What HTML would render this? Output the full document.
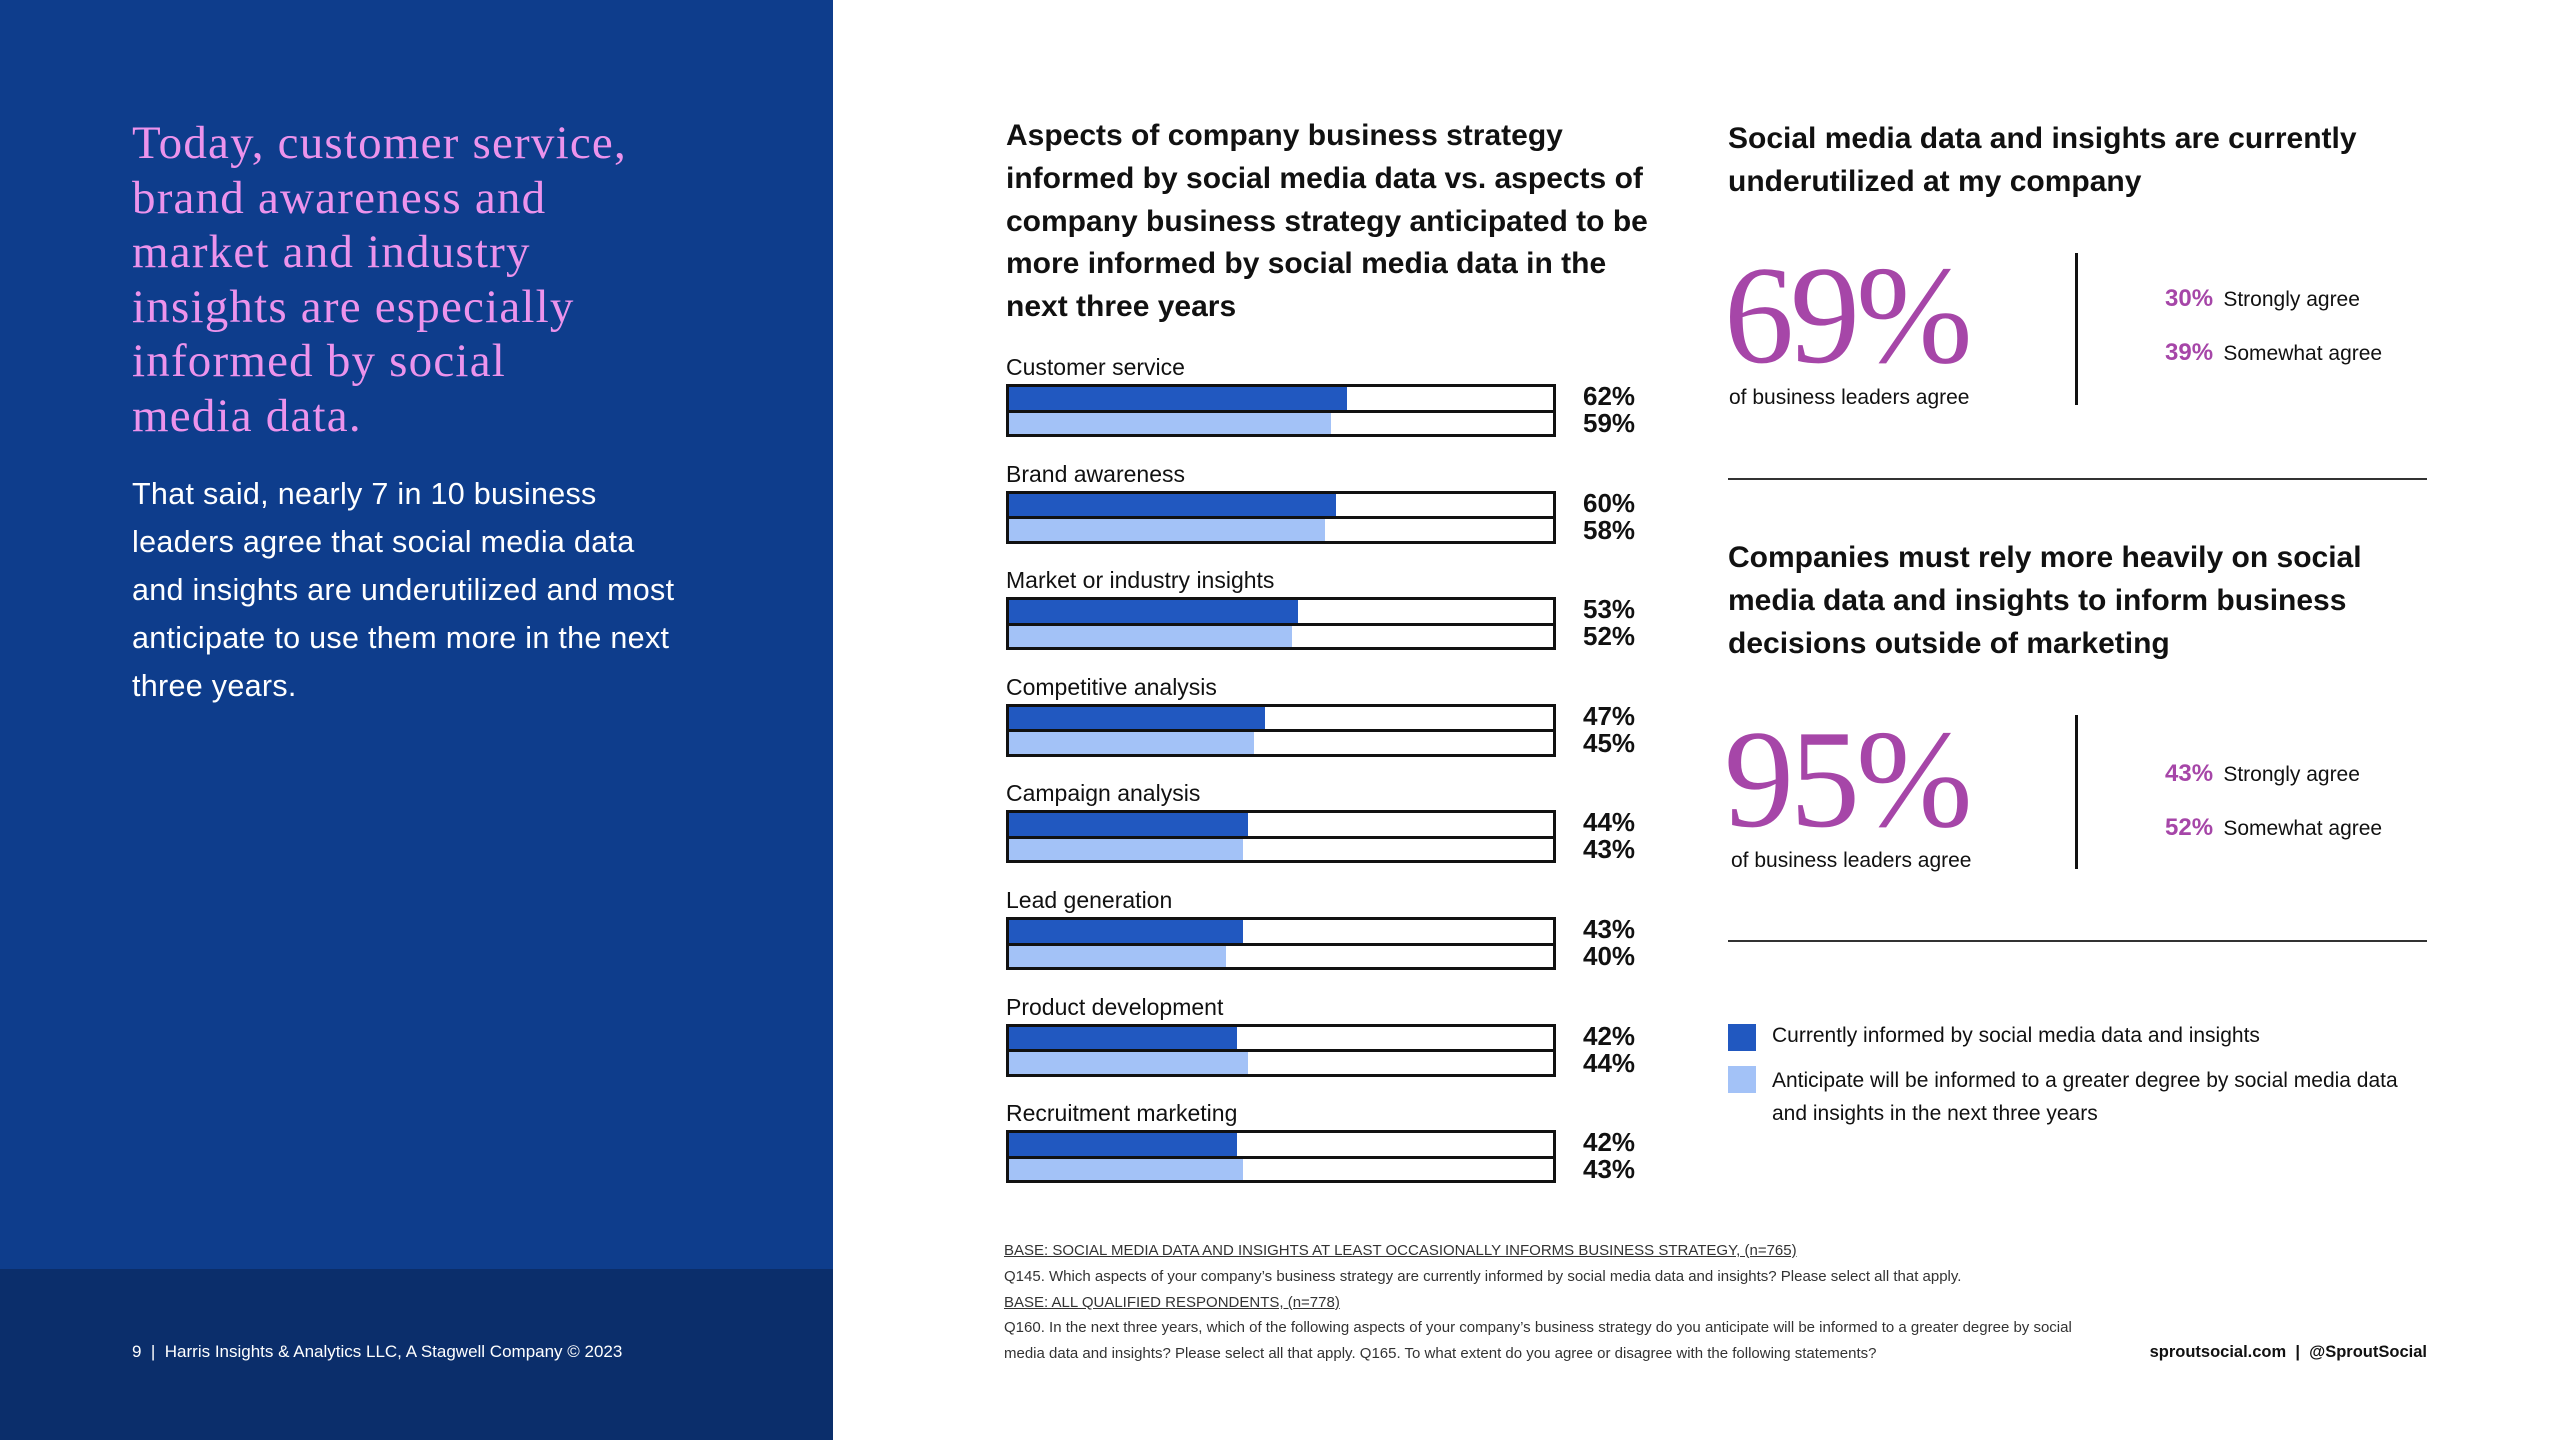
<!DOCTYPE html>
<html><head><meta charset="utf-8"><style>
*{margin:0;padding:0;box-sizing:border-box}
body{width:2560px;height:1440px;position:relative;background:#fff;font-family:"Liberation Sans",sans-serif;overflow:hidden;color:#111}
.abs{position:absolute;white-space:nowrap}
#left{position:absolute;left:0;top:0;width:833px;height:1440px;background:#0e3d8c}
#leftfoot{position:absolute;left:0;top:1269px;width:833px;height:171px;background:#0b2e6b}
.h{font-family:"Liberation Serif",serif;color:#ec93ec;font-size:47px;letter-spacing:1.2px;line-height:54.6px;left:132px;top:116px}
.body{color:#fff;font-size:30.5px;letter-spacing:0.3px;line-height:48px;left:132px;top:470px}
.ttl{font-weight:bold;font-size:30px;line-height:42.8px}
.big{font-family:"Liberation Serif",serif;color:#a646a8;font-size:140px;line-height:1;letter-spacing:-4px}
.pc{color:#a646a8;font-weight:bold;font-size:24px}
.sm{font-size:21px}
.note{font-size:15px;color:#333}
</style></head><body>
<div id="left"></div>
<div id="leftfoot"></div>
<div class="abs h">Today, customer service,<br>brand awareness and<br>market and industry<br>insights are especially<br>informed by social<br>media data.</div>
<div class="abs body">That said, nearly 7 in 10 business<br>leaders agree that social media data<br>and insights are underutilized and most<br>anticipate to use them more in the next<br>three years.</div>
<div class="abs" style="left:132px;top:1342px;color:#fff;font-size:17px">9 &nbsp;|&nbsp; Harris Insights &amp; Analytics LLC, A Stagwell Company © 2023</div>

<div class="abs ttl" style="left:1006px;top:115px">Aspects of company business strategy<br>informed by social media data vs. aspects of<br>company business strategy anticipated to be<br>more informed by social media data in the<br>next three years</div>
<div id="chart"></div>

<div class="abs ttl" style="left:1728px;top:118px">Social media data and insights are currently<br>underutilized at my company</div>
<div class="abs big" style="left:1724px;top:246px">69%</div>
<div class="abs sm" style="left:1729px;top:386px">of business leaders agree</div>
<div class="abs" style="left:2075px;top:253px;width:3px;height:152px;background:#111"></div>
<div class="abs" style="left:2165px;top:285px"><span class="pc">30%</span> <span class="sm">&nbsp;Strongly agree</span></div>
<div class="abs" style="left:2165px;top:339px"><span class="pc">39%</span> <span class="sm">&nbsp;Somewhat agree</span></div>
<div class="abs" style="left:1728px;top:478px;width:699px;height:2px;background:#333"></div>

<div class="abs ttl" style="left:1728px;top:537px">Companies must rely more heavily on social<br>media data and insights to inform business<br>decisions outside of marketing</div>
<div class="abs big" style="left:1724px;top:710px">95%</div>
<div class="abs sm" style="left:1731px;top:849px">of business leaders agree</div>
<div class="abs" style="left:2075px;top:715px;width:3px;height:154px;background:#111"></div>
<div class="abs" style="left:2165px;top:760px"><span class="pc">43%</span> <span class="sm">&nbsp;Strongly agree</span></div>
<div class="abs" style="left:2165px;top:814px"><span class="pc">52%</span> <span class="sm">&nbsp;Somewhat agree</span></div>
<div class="abs" style="left:1728px;top:940px;width:699px;height:2px;background:#333"></div>

<div class="abs" style="left:1728px;top:1024px;width:28px;height:27px;background:#2158c0"></div>
<div class="abs sm" style="left:1772px;top:1024px">Currently informed by social media data and insights</div>
<div class="abs" style="left:1728px;top:1066px;width:28px;height:27px;background:#a3c2f7"></div>
<div class="abs sm" style="left:1772px;top:1064px;line-height:33px">Anticipate will be informed to a greater degree by social media data<br>and insights in the next three years</div>

<div class="abs note" style="left:1004px;top:1242px;text-decoration:underline">BASE: SOCIAL MEDIA DATA AND INSIGHTS AT LEAST OCCASIONALLY INFORMS BUSINESS STRATEGY, (n=765)</div>
<div class="abs note" style="left:1004px;top:1268px">Q145. Which aspects of your company’s business strategy are currently informed by social media data and insights? Please select all that apply.</div>
<div class="abs note" style="left:1004px;top:1294px;text-decoration:underline">BASE: ALL QUALIFIED RESPONDENTS, (n=778)</div>
<div class="abs note" style="left:1004px;top:1319px">Q160. In the next three years, which of the following aspects of your company’s business strategy do you anticipate will be informed to a greater degree by social</div>
<div class="abs note" style="left:1004px;top:1345px">media data and insights? Please select all that apply. Q165. To what extent do you agree or disagree with the following statements?</div>
<div class="abs" style="right:133px;top:1343px;font-size:16.5px;font-weight:bold">sproutsocial.com &nbsp;|&nbsp; @SproutSocial</div>

<script>
const categories=["Customer service","Brand awareness","Market or industry insights","Competitive analysis","Campaign analysis","Lead generation","Product development","Recruitment marketing"];
const currentValues=[62,60,53,47,44,43,42,42];
const anticipatedValues=[59,58,52,45,43,40,44,43];
const chart=document.getElementById('chart');
const X0=1006,W=550,TOP=384,PITCH=106.6,BH=26.5;
function xs(v){return W*v/100;}
function add(css,name,text){
  const d=document.createElement('div');
  d.className='abs';d.style.cssText=css;
  
  
  if(text!==undefined)d.textContent=text;
  chart.appendChild(d);return d;
}
categories.forEach((c,i)=>{
  const y=TOP+i*PITCH;
  add(`left:${X0}px;top:${y-30}px;font-size:23px`,'category-label',c);
  add(`left:${X0}px;top:${y}px;width:${W}px;height:${BH*2}px;border:3px solid #111;background:#fff`,'bar-frame');
  add(`left:${X0+3}px;top:${y+3}px;width:${xs(currentValues[i])-3}px;height:${BH-4}px;background:#2158c0`,'bar-current');
  add(`left:${X0}px;top:${y+BH-1}px;width:${W}px;height:3px;background:#111`,'bar-divider');
  add(`left:${X0+3}px;top:${y+BH+2}px;width:${xs(anticipatedValues[i])-3}px;height:${BH-5}px;background:#a3c2f7`,'bar-anticipated');
  add(`left:1583px;top:${y-1}px;font-size:26px;font-weight:bold;line-height:27px`,'value-current',currentValues[i]+'%');
  add(`left:1583px;top:${y+26}px;font-size:26px;font-weight:bold;line-height:27px`,'value-anticipated',anticipatedValues[i]+'%');
});
</script>
</body></html>
